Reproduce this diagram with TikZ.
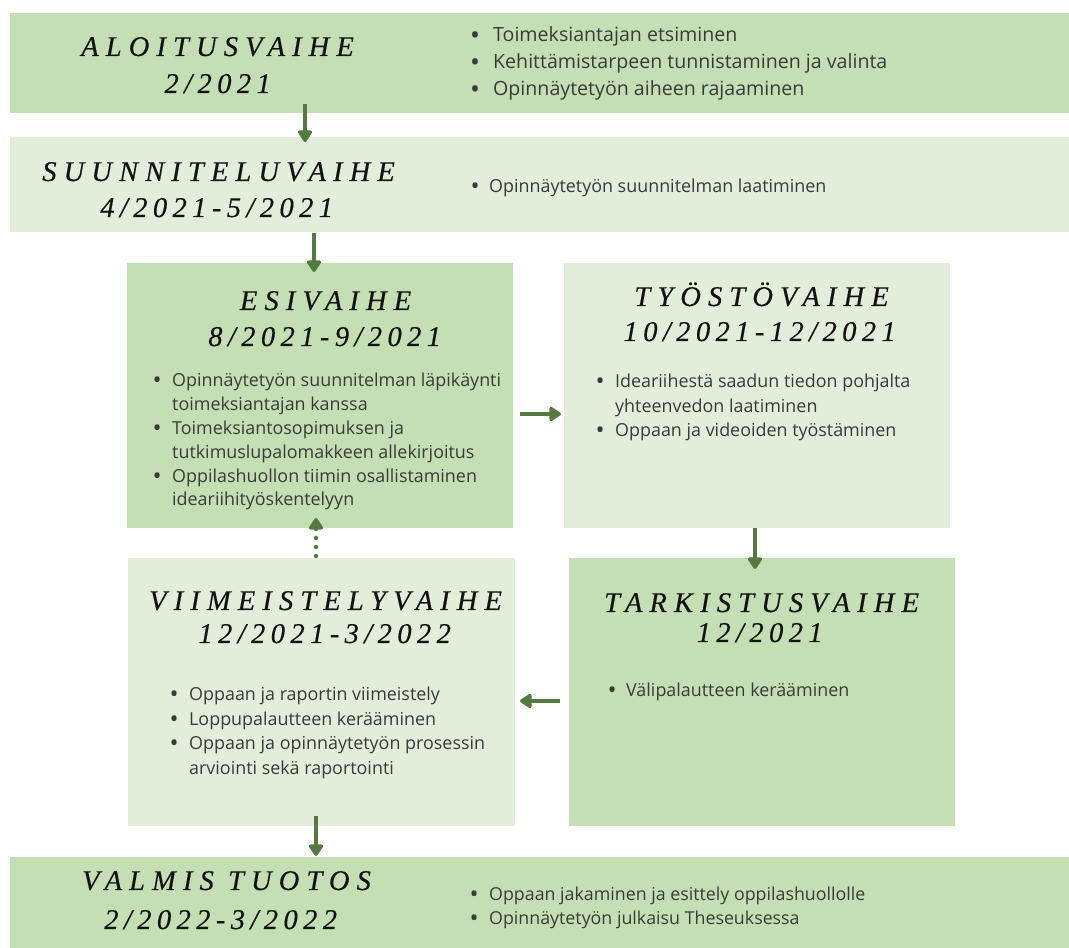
\documentclass[tikz,border=0pt]{standalone}
\usepackage{fontspec}
\setmainfont{Open Sans}
\newfontfamily\headfont[LetterSpace=25,FakeBold=0.4]{Liberation Serif}
\newfontfamily\datefont[LetterSpace=19,FakeBold=0.4]{Liberation Serif}
\usetikzlibrary{arrows.meta}
\definecolor{darkbox}{RGB}{197,223,180}
\definecolor{lightbox}{RGB}{226,237,218}
\definecolor{arrowc}{RGB}{84,122,66}
\definecolor{bodyc}{RGB}{58,58,58}
\definecolor{headc}{RGB}{18,18,18}
\newcommand\bul[1][15pt]{\makebox[#1][l]{\makebox[0pt][c]{\raisebox{-0.11em}{\scalebox{1.35}{\textbullet}}}}}
\newcommand\hd[1]{{\headfont\itshape\fontsize{28.5}{30}\selectfont #1\kern-.25em}}
\newcommand\dt[1]{{\datefont\itshape\fontsize{28.5}{30}\selectfont #1\kern-.19em}}
\begin{document}
\begin{tikzpicture}[x=1pt,y=1pt,
  box/.style={draw=none,anchor=north west,inner sep=0pt,outer sep=0pt},
  dbox/.style={box,fill=darkbox},
  lbox/.style={box,fill=lightbox},
  head/.style={anchor=base,inner sep=0pt,text=headc},
  blist/.style={anchor=base west,inner sep=0pt,text=bodyc,align=left},
  arr/.style={draw=arrowc,line width=4.5pt,-{Triangle[length=13pt,width=16pt,round]}},
  darr/.style={arr,line cap=round,dash pattern=on 0pt off 9pt}
]
\useasboundingbox[fill=white] (0,0) rectangle (1069,948);
% boxes
\node[dbox,minimum width=1059pt,minimum height=100pt] (top) at (10,935) {};
\node[lbox,minimum width=1059pt,minimum height=95pt] (plan) at (10,811) {};
\node[dbox,minimum width=386pt,minimum height=265pt] (esi) at (127,685) {};
\node[lbox,minimum width=386pt,minimum height=265pt] (tyo) at (564,685) {};
\node[lbox,minimum width=387pt,minimum height=268pt] (vii) at (128,390) {};
\node[dbox,minimum width=386pt,minimum height=268pt] (tar) at (569,390) {};
\node[dbox,minimum width=1059pt,minimum height=91pt] (val) at (10,91) {};
% headings
\node[head] (toph) at (214,892) {\hd{ALOITUSVAIHE}};
\node[head] (topd) at (215,855) {\dt{2/2021}};
\node[head] (planh) at (215,767) {\hd{SUUNNITELUVAIHE}};
\node[head] (pland) at (214,731) {\dt{4/2021-5/2021}};
\node[head] (esih) at (322,638) {\hd{ESIVAIHE}};
\node[head] (esid) at (322,602) {\dt{8/2021-9/2021}};
\node[head] (tyoh) at (758,642) {\hd{TYÖSTÖVAIHE}};
\node[head] (tyod) at (757,607) {\dt{10/2021-12/2021}};
\node[head] (viih) at (322,338) {\hd{VIIMEISTELYVAIHE}};
\node[head] (viid) at (322,305) {\dt{12/2021-3/2022}};
\node[head] (tarh) at (758,336) {\hd{TARKISTUSVAIHE}};
\node[head] (tard) at (757,306) {\dt{12/2021}};
\node[head] (valh) at (223,58) {\hd{VALMIS TUOTOS}};
\node[head] (vald) at (218,19) {\dt{2/2022-3/2022}};
% bullet lists
\node[blist] (topl) at (475,906) {\fontsize{19.6}{27}\selectfont
  \begin{tabular}[t]{@{}l@{}l@{}}
  \bul[18pt] & Toimeksiantajan etsiminen\\
  \bul[18pt] & Kehittämistarpeen tunnistaminen ja valinta\\
  \bul[18pt] & Opinnäytetyön aiheen rajaaminen
  \end{tabular}};
\node[blist] (planl) at (475,755) {\fontsize{17.9}{24}\selectfont
  \begin{tabular}[t]{@{}l@{}l@{}}
  \bul[14pt] & Opinnäytetyön suunnitelman laatiminen
  \end{tabular}};
\node[blist] (esil) at (157,561) {\fontsize{17.9}{23.8}\selectfont
  \begin{tabular}[t]{@{}l@{}l@{}}
  \bul & Opinnäytetyön suunnitelman läpikäynti\\
       & toimeksiantajan kanssa\\
  \bul & Toimeksiantosopimuksen ja\\
       & tutkimuslupalomakkeen allekirjoitus\\
  \bul & Oppilashuollon tiimin osallistaminen\\
       & ideariihityöskentelyyn
  \end{tabular}};
\node[blist] (tyol) at (600,560) {\fontsize{17.9}{24.5}\selectfont
  \begin{tabular}[t]{@{}l@{}l@{}}
  \bul & Ideariihestä saadun tiedon pohjalta\\
       & yhteenvedon laatiminen\\
  \bul & Oppaan ja videoiden työstäminen
  \end{tabular}};
\node[blist] (viil) at (174,247) {\fontsize{17.9}{24.5}\selectfont
  \begin{tabular}[t]{@{}l@{}l@{}}
  \bul & Oppaan ja raportin viimeistely\\
  \bul & Loppupalautteen kerääminen\\
  \bul & Oppaan ja opinnäytetyön prosessin\\
       & arviointi sekä raportointi
  \end{tabular}};
\node[blist] (tarl) at (612,251) {\fontsize{17.9}{24}\selectfont
  \begin{tabular}[t]{@{}l@{}l@{}}
  \bul[14pt] & Välipalautteen kerääminen
  \end{tabular}};
\node[blist] (vall) at (474,47) {\fontsize{17.8}{24}\selectfont
  \begin{tabular}[t]{@{}l@{}l@{}}
  \bul & Oppaan jakaminen ja esittely oppilashuollolle\\
  \bul & Opinnäytetyön julkaisu Theseuksessa
  \end{tabular}};
% arrows
\coordinate (a1s) at (305,844); \coordinate (a1e) at (305,806);
\coordinate (a2s) at (314,715); \coordinate (a2e) at (314,676);
\coordinate (a3s) at (520,534); \coordinate (a3e) at (561,534);
\coordinate (a4s) at (755,420); \coordinate (a4e) at (755,379);
\coordinate (a5s) at (560,247); \coordinate (a5e) at (520,247);
\coordinate (a6s) at (316,392); \coordinate (a6e) at (316,430);
\coordinate (a7s) at (316,132); \coordinate (a7e) at (316,92);
\draw[arr] (a1s) -- (a1e);
\draw[arr] (a2s) -- (a2e);
\draw[arr] (a3s) -- (a3e);
\draw[arr] (a4s) -- (a4e);
\draw[arr] (a5s) -- (a5e);
\draw[darr] (a6s) -- (a6e);
\draw[arr] (a7s) -- (a7e);
\end{tikzpicture}
\end{document}
